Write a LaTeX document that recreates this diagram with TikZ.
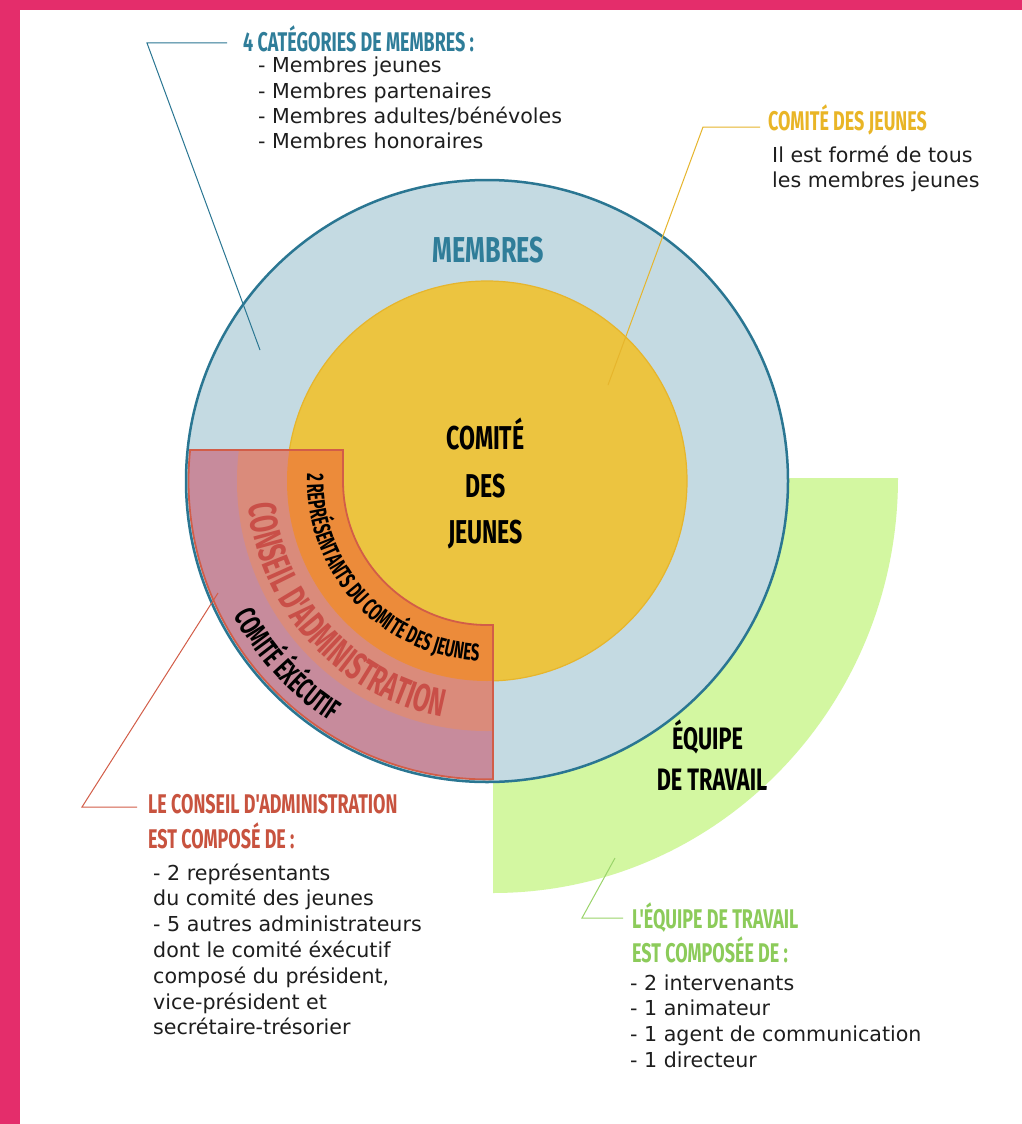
\documentclass[tikz,border=0pt]{standalone}
\usepackage{fontspec}
\setmainfont{DejaVu Sans}
\newfontfamily\bebas[FakeStretch=0.7]{Fira Sans}
\newfontfamily\bebash[FakeStretch=0.665]{Fira Sans}
\newfontfamily\bebasc[FakeStretch=0.62]{Fira Sans}
\usetikzlibrary{decorations.text,calc}
\definecolor{pinkc}{HTML}{E42D6B}
\definecolor{tealc}{HTML}{2A7692}
\definecolor{tealt}{HTML}{2F7D99}
\definecolor{lblue}{HTML}{C4DAE2}
\definecolor{yellowf}{HTML}{ECC440}
\definecolor{yellowl}{HTML}{E6B52C}
\definecolor{yellowt}{HTML}{E9B526}
\definecolor{greenf}{HTML}{D3F7A1}
\definecolor{greent}{HTML}{8CCB5A}
\definecolor{greenl}{HTML}{9AD46A}
\definecolor{mauve}{HTML}{C78B9C}
\definecolor{salmon}{HTML}{DA8B7B}
\definecolor{orangef}{HTML}{EC8B3A}
\definecolor{redl}{HTML}{D25D48}
\definecolor{redt}{HTML}{C8533F}
\definecolor{conseilt}{HTML}{C94F48}
\definecolor{bodyc}{HTML}{1E1E1E}
\tikzset{
  hd/.style={font=\bebash\bfseries\fontsize{27}{27}\selectfont, inner sep=0pt, anchor=base west},
  bd/.style={font=\fontsize{20.6}{25}\selectfont, text=bodyc, inner sep=0pt, anchor=base west},
  bigt/.style={font=\bebas\bfseries\fontsize{33}{33}\selectfont, inner sep=0pt, anchor=base},
  leader/.style={line width=1pt},
}
\begin{document}
\begin{tikzpicture}[x=1pt,y=-1pt]
\useasboundingbox (0,0) rectangle (1022,1124);
\fill[white] (0,0) rectangle (1022,1124);
\fill[pinkc] (0,0) rectangle (20,1124);
\fill[pinkc] (0,0) rectangle (1022,10);
\coordinate (C) at (487,481);
% green quarter
\fill[greenf] (493,478) -- (898,478) arc[start angle=0, end angle=90, x radius=405, y radius=415] -- cycle;
% membres circle
\fill[lblue] (C) circle[radius=301];
% comite des jeunes circle
\fill[yellowf] (C) circle[radius=200];
\draw[yellowl, line width=1.2pt] (C) circle[radius=200];
% conseil shape
\def\conseilpath{(343,450) -- (190.1,450) arc[start angle=185.94, end angle=88.85, radius=298.5] -- (493,625) -- (487,625) arc[start angle=90, end angle=180, radius=144] -- cycle}
\begin{scope}
\clip \conseilpath;
\fill[mauve] (C) circle[radius=305];
\fill[salmon] (C) circle[radius=250];
\fill[orangef] (C) circle[radius=200];
\end{scope}
\draw[redl, line width=1.8pt] \conseilpath;
\draw[tealc, line width=2.5pt] (C) circle[radius=301];
% curved texts
\path[decorate, decoration={text along path, text align=center,
  text={|\bebasc\bfseries\fontsize{24}{24}\selectfont\color{black}|2 REPRÉSENTANTS DU COMITÉ DES JEUNES}}]
  (C) ++(200:180) arc[start angle=200, end angle=75, radius=180];
\path[decorate, decoration={text along path, text align=center,
  text={|\bebasc\bfseries\fontsize{39}{39}\selectfont\color{conseilt}|CONSEIL D'ADMINISTRATION}}]
  (C) ++(200:240) arc[start angle=200, end angle=75, radius=240];
\path[decorate, decoration={text along path, text align=center,
  text={|\bebasc\bfseries\fontsize{30}{30}\selectfont\color{black}|COMITÉ ÉXÉCUTIF}}]
  (C) ++(200:287) arc[start angle=200, end angle=75, radius=287];
% center texts
\node[bigt, text=tealt, font=\bebas\bfseries\fontsize{36}{36}\selectfont] (membres) at (488.5,262) {MEMBRES};
\node[bigt] (cj1) at (485.5,449) {COMITÉ};
\node[bigt] (cj2) at (485.5,497) {DES};
\node[bigt] (cj3) at (485.5,543) {JEUNES};
\node[bigt, font=\bebas\bfseries\fontsize{31}{31}\selectfont] (eq1) at (707.5,749) {ÉQUIPE};
\node[bigt, font=\bebas\bfseries\fontsize{31}{31}\selectfont] (eq2) at (712,790) {DE TRAVAIL};
% headers
\node[hd, text=tealt] (hmem) at (243,51.7) {4 CATÉGORIES DE MEMBRES :};
\node[hd, text=yellowt] (hcj) at (768,130) {COMITÉ DES JEUNES};
\node[hd, text=redt] (hca1) at (148,813) {LE CONSEIL D'ADMINISTRATION};
\node[hd, text=redt] (hca2) at (148,848) {EST COMPOSÉ DE :};
\node[hd, text=greent] (heq1) at (632,928) {L'ÉQUIPE DE TRAVAIL};
\node[hd, text=greent] (heq2) at (632,962) {EST COMPOSÉE DE :};
% body texts
\foreach \t [count=\i] in {- Membres jeunes, - Membres partenaires, - Membres adultes/bénévoles, - Membres honoraires}
  \node[bd] (mem\i) at (258,48+25*\i) {\t};
\foreach \t [count=\i] in {Il est formé de tous, les membres jeunes}
  \node[bd] (cjb\i) at (772,137+25*\i) {\t};
\foreach \t [count=\i] in {- 2 représentants, du comité des jeunes, - 5 autres administrateurs, dont le comité éxécutif, {composé du président,}, vice-président et, secrétaire-trésorier}
  \node[bd] (cab\i) at (153,854.2+25.8*\i) {\t};
\foreach \t [count=\i] in {- 2 intervenants, - 1 animateur, - 1 agent de communication, - 1 directeur}
  \node[bd] (eqb\i) at (630,964.3+25.7*\i) {\t};
% leader lines
\coordinate (tA) at (227,43); \coordinate (tB) at (147,43); \coordinate (tC) at (260,350);
\draw[leader, tealc] (tA) -- (tB) -- (tC);
\coordinate (yA) at (760,127); \coordinate (yB) at (703,127); \coordinate (yC) at (608,385);
\draw[leader, yellowl] (yA) -- (yB) -- (yC);
\coordinate (rA) at (218,593); \coordinate (rB) at (82,807); \coordinate (rC) at (137,807);
\draw[leader, redl] (rA) -- (rB) -- (rC);
\coordinate (gA) at (615,858); \coordinate (gB) at (582,918); \coordinate (gC) at (623,918);
\draw[leader, greenl] (gA) -- (gB) -- (gC);
\end{tikzpicture}
\end{document}
